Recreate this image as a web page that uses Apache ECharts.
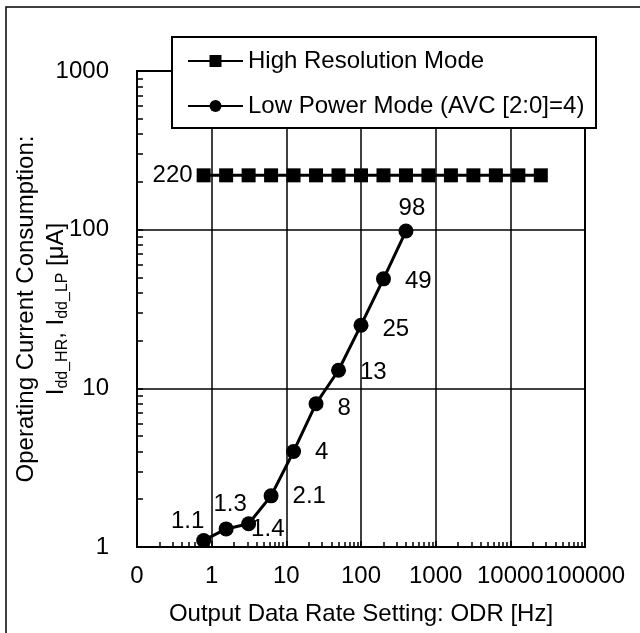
<!DOCTYPE html>
<html>
<head>
<meta charset="utf-8">
<script src="https://cdn.jsdelivr.net/npm/echarts@6/dist/echarts.min.js"></script>
<style>
html,body{margin:0;padding:0;background:#fff;}
#c{width:640px;height:633px;}
</style>
</head>
<body>
<div id="c"></div>
<script>
// ---- data ----
const hrOdr = [0.78125, 1.5625, 3.125, 6.25, 12.5, 25, 50, 100, 200, 400, 800, 1600, 3200, 6400, 12800, 25600];
const hrCurrent = [220, 220, 220, 220, 220, 220, 220, 220, 220, 220, 220, 220, 220, 220, 220, 220];
const lpOdr = [0.78125, 1.5625, 3.125, 6.25, 12.5, 25, 50, 100, 200, 400];
const lpCurrent = [1.1, 1.3, 1.4, 2.1, 4, 8, 13, 25, 49, 98];
const xTickValues = [0.1, 1, 10, 100, 1000, 10000, 100000];
const xTickLabels = ['0', '1', '10', '100', '1000', '10000', '100000'];
const yTickValues = [1, 10, 100, 1000];
const yTickLabels = ['1', '10', '100', '1000'];
const seriesNames = ['High Resolution Mode', 'Low Power Mode (AVC [2:0]=4)'];

// minor tick values (axis decoration)
function minorTicks(from, to) {
  const out = [];
  for (let d = from; d < to * 0.999; d *= 10) {
    for (let k = 2; k <= 9; k++) out.push(+(d * k).toPrecision(6));
  }
  return out;
}
const xMinor = minorTicks(0.1, 100000);
const yMinor = minorTicks(1, 1000);

const FONT = "'Liberation Sans', Arial, sans-serif";
const FS = 24;

function lpLabel(i) {
  const base = {show: true, fontSize: FS, fontFamily: FONT, color: '#000', formatter: String(lpCurrent[i])};
  if (i === 0) return Object.assign(base, {position: 'top', offset: [-16, 0], distance: 0});
  if (i === 1) return Object.assign(base, {position: 'top', offset: [4, 1], distance: 6});
  if (i === 2) return Object.assign(base, {position: 'right', offset: [-5, 6], distance: 0});
  if (i === lpCurrent.length - 1) return Object.assign(base, {position: 'top', offset: [6, 0], distance: 3});
  const dy = [0, 0, 0, 1, 1, 5, 2, 4, 3][i] || 0;
  return Object.assign(base, {position: 'right', distance: 14, offset: [0, dy]});
}

const chart = echarts.init(document.getElementById('c'), null, {renderer: 'canvas'});
chart.setOption({
  animation: false,
  backgroundColor: '#fff',
  textStyle: {fontFamily: FONT},
  grid: {left: 137, top: 71, width: 448, height: 476, show: true, borderColor: '#000', borderWidth: 2,
    containLabel: false, outerBoundsMode: 'none'},
  legend: {
    orient: 'vertical', left: 182, top: 44, itemWidth: 55, itemHeight: 15, itemGap: 21,
    textStyle: {fontSize: FS, fontFamily: FONT, color: '#000', lineHeight: 24},
    data: seriesNames, selectedMode: false
  },
  xAxis: [{
    type: 'log', logBase: 10, min: 0.1, max: 100000, position: 'bottom',
    axisLine: {show: true, lineStyle: {color: '#000', width: 2}},
    axisTick: {show: true, inside: true, length: 6, lineStyle: {color: '#000', width: 1.5}},
    splitLine: {show: true, lineStyle: {color: '#000', width: 1.5}},
    axisLabel: {
      fontSize: FS, fontFamily: FONT, color: '#000', margin: 17,
      formatter: function (v) {
        for (let i = 0; i < xTickValues.length; i++) {
          if (Math.abs(Math.log10(v) - Math.log10(xTickValues[i])) < 1e-6) return xTickLabels[i];
        }
        return '';
      }
    },
    name: 'Output Data Rate Setting: ODR [Hz]', nameLocation: 'middle', nameGap: 55, nameMoveOverlap: false,
    nameTextStyle: {fontSize: FS, fontFamily: FONT, color: '#000'}
  }, {
    type: 'log', logBase: 10, min: 0.1, max: 100000, position: 'bottom',
    axisLine: {show: false}, axisLabel: {show: false}, splitLine: {show: false},
    axisTick: {show: true, inside: true, length: 5, customValues: xMinor, lineStyle: {color: '#000', width: 1.5}}
  }],
  yAxis: [{
    type: 'log', logBase: 10, min: 1, max: 1000, position: 'left',
    axisLine: {show: true, lineStyle: {color: '#000', width: 2}},
    axisTick: {show: true, inside: true, length: 6, lineStyle: {color: '#000', width: 1.5}},
    splitLine: {show: true, lineStyle: {color: '#000', width: 1.5}},
    axisLabel: {
      fontSize: FS, fontFamily: FONT, color: '#000', margin: 28,
      formatter: function (v) {
        for (let i = 0; i < yTickValues.length; i++) {
          if (Math.abs(Math.log10(v) - Math.log10(yTickValues[i])) < 1e-6) return yTickLabels[i];
        }
        return '';
      }
    },
    name: 'Operating Current Consumption:\n{m|I}{s|dd_HR}{m|, I}{s|dd_LP}{m| [μA]}',
    nameLocation: 'middle', nameRotate: 90, nameGap: 66, nameMoveOverlap: false,
    nameTextStyle: {
      fontSize: FS, fontFamily: FONT, color: '#000', lineHeight: 30, align: 'center',
      rich: {
        m: {fontSize: FS, fontFamily: FONT, color: '#000', lineHeight: 30},
        s: {fontSize: 16, fontFamily: FONT, color: '#000', lineHeight: 16, verticalAlign: 'bottom'}
      }
    }
  }, {
    type: 'log', logBase: 10, min: 1, max: 1000, position: 'left',
    axisLine: {show: false}, axisLabel: {show: false}, splitLine: {show: false},
    axisTick: {show: true, inside: true, length: 6, customValues: yMinor, lineStyle: {color: '#000', width: 1.5}}
  }],
  graphic: [
    {type: 'rect', z: -1, silent: true, shape: {x: 6, y: 7, width: 700, height: 700},
      style: {fill: 'none', stroke: '#000', lineWidth: 1.5}},
    {type: 'rect', z: 3, silent: true, shape: {x: 172, y: 37, width: 424, height: 91},
      style: {fill: '#fff', stroke: '#000', lineWidth: 2}}
  ],
  series: [{
    name: seriesNames[0], type: 'line', xAxisIndex: 0, yAxisIndex: 0,
    data: hrOdr.map((x, i) => ({
      value: [x, hrCurrent[i]],
      label: i === 0 ? {show: true, position: 'left', distance: 4, fontSize: FS, fontFamily: FONT, color: '#000', formatter: String(hrCurrent[i])} : {show: false}
    })),
    symbol: 'rect', symbolSize: 14,
    lineStyle: {color: '#000', width: 3}, itemStyle: {color: '#000'}
  }, {
    name: seriesNames[1], type: 'line', xAxisIndex: 0, yAxisIndex: 0,
    data: lpOdr.map((x, i) => ({value: [x, lpCurrent[i]], label: lpLabel(i)})),
    symbol: 'circle', symbolSize: 15,
    lineStyle: {color: '#000', width: 3}, itemStyle: {color: '#000'}
  }]
});
</script>
</body>
</html>
